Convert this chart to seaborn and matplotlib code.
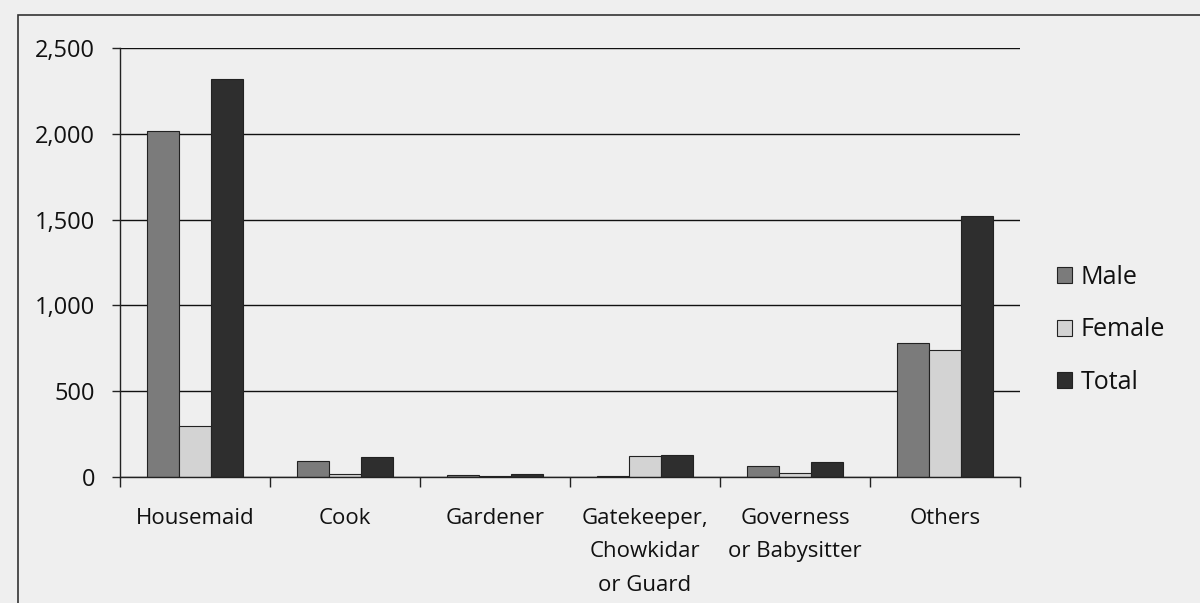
import matplotlib.pyplot as plt
import seaborn as sns
import pandas as pd
from matplotlib.patches import Rectangle

# Domestic workers by occupation
occupations = ['Housemaid', 'Cook', 'Gardener', 'Gatekeeper,\nChowkidar\nor Guard',
               'Governess\nor Babysitter', 'Others']
male = [2020, 95, 10, 5, 65, 780]
female = [300, 20, 5, 125, 25, 740]
total = [2320, 115, 15, 130, 90, 1520]

series = ['Male', 'Female', 'Total']
colors = ['#7b7b7b', '#d3d3d3', '#2e2e2e']

rows = []
for name, vals in zip(series, [male, female, total]):
    for occ, v in zip(occupations, vals):
        rows.append({'occupation': occ, 'series': name, 'count': v})
df = pd.DataFrame(rows)

sns.set_style('white')
plt.rcParams['font.family'] = ['Open Sans', 'DejaVu Sans']

fig = plt.figure(figsize=(12, 6.03), dpi=100, facecolor='#efefef')
ax = fig.add_axes([0.1, 0.209, 0.75, 0.711])
ax.set_facecolor('#efefef')

sns.barplot(data=df, x='occupation', y='count', hue='series', order=occupations,
            hue_order=series, palette=colors, width=0.64, edgecolor='#222222',
            linewidth=0.8, ax=ax)

ax.set_ylim(0, 2500)
ax.set_xlim(-0.5, len(occupations) - 0.5)
ax.set_yticks(range(0, 2501, 500))
ax.set_yticklabels([f'{v:,}' for v in range(0, 2501, 500)], fontsize=17, color='#111111')
ax.yaxis.grid(True, color='#111111', linewidth=1.0)
ax.set_axisbelow(True)
ax.tick_params(axis='y', length=6, width=1, color='#222222', pad=12, left=True)

ax.set_xticks(range(len(occupations)))
ax.set_xticklabels(occupations, fontsize=16, linespacing=1.8, va='top', color='#111111')
ax.set_xticks([i - 0.5 for i in range(len(occupations) + 1)], minor=True)
ax.tick_params(axis='x', which='major', length=0, pad=22)
ax.tick_params(axis='x', which='minor', length=7, width=1, color='#222222', bottom=True)

ax.set_xlabel('')
ax.set_ylabel('')
for side in ['top', 'right']:
    ax.spines[side].set_visible(False)
for side in ['left', 'bottom']:
    ax.spines[side].set_color('#222222')
    ax.spines[side].set_linewidth(1.0)

handles, labels = ax.get_legend_handles_labels()
leg = ax.legend(handles, labels, loc='upper left', bbox_to_anchor=(0.862, 0.598),
                bbox_transform=fig.transFigure, frameon=False, fontsize=18,
                handlelength=0.6, handleheight=0.6, handletextpad=0.35, labelspacing=1.1)
for t in leg.get_texts():
    t.set_color('#111111')

# outer chart frame
fig.patches.append(Rectangle((0.015, -0.05), 1.2, 1.025, transform=fig.transFigure,
                             fill=False, edgecolor='#333333', linewidth=1.2))

fig.savefig('out.png', dpi=100, facecolor=fig.get_facecolor())
